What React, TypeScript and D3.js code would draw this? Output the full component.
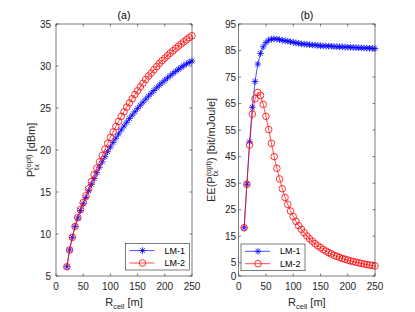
import React from "react";
import * as d3 from "d3";

// ---------- data ----------
const R_A = [20,25,30,35,40,45,50,55,60,65,70,75,80,85,90,95,100,105,110,115,120,125,130,135,140,145,150,155,160,165,170,175,180,185,190,195,200,205,210,215,220,225,230,235,240,245,250];
const LM1_A = [6.1,8.1,9.6,10.9,11.9,12.8,13.6,14.35,15.15,15.9,16.6,17.3,17.95,18.6,19.2,19.8,20.35,20.9,21.4,21.9,22.4,22.85,23.3,23.75,24.15,24.55,24.95,25.33,25.7,26.06,26.41,26.75,27.08,27.4,27.71,28.01,28.3,28.58,28.85,29.11,29.36,29.6,29.83,30.05,30.25,30.43,30.6];
const LM2_A = [6.1,8.1,9.6,10.9,11.95,12.9,13.75,14.55,15.4,16.25,17.05,17.85,18.6,19.35,20.1,20.8,21.5,22.15,22.8,23.4,24.0,24.55,25.1,25.6,26.1,26.6,27.05,27.5,27.95,28.4,28.8,29.15,29.55,29.93,30.3,30.63,30.94,31.24,31.53,31.81,32.09,32.36,32.62,32.88,33.13,33.37,33.6];

const R_B = [10,15,20,25,30,35,40,45,50,55,60,65,70,75,80,85,90,95,100,105,110,115,120,125,130,135,140,145,150,155,160,165,170,175,180,185,190,195,200,205,210,215,220,225,230,235,240,245,250];
const LM1_B = [18.2,34.6,50.6,63.6,73.3,79.9,83.9,86.4,88.0,88.9,89.3,89.4,89.3,89.1,88.9,88.7,88.5,88.3,88.1,87.9,87.7,87.5,87.4,87.3,87.2,87.1,87.0,86.9,86.8,86.75,86.7,86.65,86.6,86.5,86.45,86.4,86.35,86.3,86.25,86.2,86.15,86.1,86.05,86.0,85.95,85.9,85.85,85.8,85.75];
const LM2_B = [18.2,34.6,49.4,61.0,66.8,69.2,68.0,64.7,60.2,55.2,50.0,45.0,40.6,36.6,32.9,29.6,27.0,24.5,22.4,20.6,19.0,17.6,16.3,15.1,14.0,13.1,12.2,11.4,10.7,10.0,9.4,8.8,8.3,7.8,7.4,7.0,6.6,6.3,6.0,5.7,5.45,5.2,4.95,4.75,4.5,4.3,4.15,3.95,3.8];

const X_TICKS = [0,50,100,150,200,250];
const Y_TICKS_A = [5,10,15,20,25,30,35];
const Y_TICKS_B = [0,5,15,25,35,45,55,65,75,85,95];
const SERIES_NAMES = ["LM-1","LM-2"];
const TITLES = ["(a)","(b)"];

const FONT = "'Liberation Sans', Arial, Helvetica, sans-serif";
const AX = "#262626";
const BLUE = "#0000ff";
const RED = "#ff0000";

function Star({ x, y, s = 3.3, color }: any) {
  const k = s * 0.72;
  return (
    <path
      d={`M${x - s},${y}H${x + s}M${x},${y - s}V${y + s}M${x - k},${y - k}L${x + k},${y + k}M${x - k},${y + k}L${x + k},${y - k}`}
      stroke={color}
      strokeWidth={0.8}
      fill="none"
    />
  );
}
function Circ({ x, y, r = 3.3, color }: any) {
  return <circle cx={x} cy={y} r={r} stroke={color} strokeWidth={0.8} fill="none" />;
}

function Panel({ x0, x1, y0, y1, yDomain, yTicks, rs, s1, s2, title, legend, labelGap, yLabel, yLabelX }: any) {
  const xs = d3.scaleLinear().domain([0, 250]).range([x0, x1]);
  const ys = d3.scaleLinear().domain(yDomain).range([y1, y0]);
  const line = d3.line<number>().x((_, i) => xs(rs[i])).y((d) => ys(d));
  const tl = 2.5;
  const cx = (x0 + x1) / 2;
  return (
    <g>
      <rect x={x0} y={y0} width={x1 - x0} height={y1 - y0} fill="#fff" />
      {/* series 1 */}
      <path d={line(s1) || ""} stroke={BLUE} strokeWidth={0.7} fill="none" />
      {s1.map((v: number, i: number) => (
        <Star key={"a" + i} x={xs(rs[i])} y={ys(v)} color={BLUE} />
      ))}
      {/* series 2 */}
      <path d={line(s2) || ""} stroke={RED} strokeWidth={0.7} fill="none" />
      {s2.map((v: number, i: number) => (
        <Circ key={"b" + i} x={xs(rs[i])} y={ys(v)} color={RED} />
      ))}
      {/* box */}
      <rect x={x0} y={y0} width={x1 - x0} height={y1 - y0} fill="none" stroke={AX} strokeWidth={0.6} />
      {X_TICKS.map((t) => (
        <g key={"xt" + t}>
          <line x1={xs(t)} x2={xs(t)} y1={y1} y2={y1 - tl} stroke={AX} strokeWidth={0.6} />
          <line x1={xs(t)} x2={xs(t)} y1={y0} y2={y0 + tl} stroke={AX} strokeWidth={0.6} />
          <text x={xs(t)} y={290} textAnchor="middle" fontSize={10} fill={AX} fontFamily={FONT}>
            {t}
          </text>
        </g>
      ))}
      {yTicks.map((t: number) => (
        <g key={"yt" + t}>
          <line x1={x0} x2={x0 + tl} y1={ys(t)} y2={ys(t)} stroke={AX} strokeWidth={0.6} />
          <line x1={x1} x2={x1 - tl} y1={ys(t)} y2={ys(t)} stroke={AX} strokeWidth={0.6} />
          <text x={x0 - labelGap} y={ys(t)} dy="0.35em" textAnchor="end" fontSize={10} fill={AX} fontFamily={FONT}>
            {t}
          </text>
        </g>
      ))}
      <text x={cx} y={18.5} textAnchor="middle" fontSize={10.5} fill="#000" fontFamily={FONT}>
        {title}
      </text>
      <text x={cx} y={305.5} textAnchor="middle" fontSize={11} fill={AX} fontFamily={FONT}>
        R<tspan fontSize={7.5} dy={3}>cell</tspan>
        <tspan dy={-3}> [m]</tspan>
      </text>
      <g transform={`translate(${yLabelX},${(y0 + y1) / 2}) rotate(-90)`}>
        {yLabel}
      </g>
      {/* legend */}
      <g>
        <rect x={legend.x} y={legend.y} width={64} height={26.7} fill="#fff" stroke={AX} strokeWidth={0.6} />
        <line x1={legend.x + 4} x2={legend.x + 29} y1={legend.y + 7.3} y2={legend.y + 7.3} stroke={BLUE} strokeWidth={0.7} />
        <Star x={legend.x + 17} y={legend.y + 7.3} color={BLUE} />
        <text x={legend.x + 39} y={legend.y + 7.3} dy="0.35em" fontSize={9} fill="#000" fontFamily={FONT}>
          {SERIES_NAMES[0]}
        </text>
        <line x1={legend.x + 4} x2={legend.x + 29} y1={legend.y + 19.7} y2={legend.y + 19.7} stroke={RED} strokeWidth={0.7} />
        <Circ x={legend.x + 17} y={legend.y + 19.7} color={RED} />
        <text x={legend.x + 39} y={legend.y + 19.7} dy="0.35em" fontSize={9} fill="#000" fontFamily={FONT}>
          {SERIES_NAMES[1]}
        </text>
      </g>
    </g>
  );
}

export default function App() {
  const labelA = (
    <text x={0} y={0} textAnchor="middle" fontSize={11} fill={AX} fontFamily={FONT}>
      P<tspan fontSize={7.5} dy={-4}>(opt)</tspan>
      <tspan fontSize={7.5} dx={-15.4} dy={7.5}>tx</tspan>
      <tspan dx={9.6} dy={-3.5}> [dBm]</tspan>
    </text>
  );
  const labelB = (
    <text x={0} y={0} textAnchor="middle" fontSize={11} fill={AX} fontFamily={FONT}>
      EE(P<tspan fontSize={7.5} dy={-4}>(opt)</tspan>
      <tspan fontSize={7.5} dx={-15.4} dy={7.5}>tx</tspan>
      <tspan dx={9.6} dy={-3.5}>) [bit/mJoule]</tspan>
    </text>
  );
  return (
    <svg width={415} height={312} style={{ position: "absolute", left: 0, top: 0, background: "#fff" }}>
      <rect width={415} height={312} fill="#fff" />
      <Panel
        x0={56} x1={192} y0={24} y1={276}
        yDomain={[5, 35]} yTicks={Y_TICKS_A}
        rs={R_A} s1={LM1_A} s2={LM2_A}
        title={TITLES[0]}
        legend={{ x: 125.5, y: 243.3 }}
        labelGap={5}
        yLabel={labelA}
        yLabelX={35}
      />
      <Panel
        x0={238.7} x1={375} y0={24} y1={276}
        yDomain={[0, 95]} yTicks={Y_TICKS_B}
        rs={R_B} s1={LM1_B} s2={LM2_B}
        title={TITLES[1]}
        legend={{ x: 241, y: 244 }}
        labelGap={2.5}
        yLabel={labelB}
        yLabelX={214.5}
      />
    </svg>
  );
}
